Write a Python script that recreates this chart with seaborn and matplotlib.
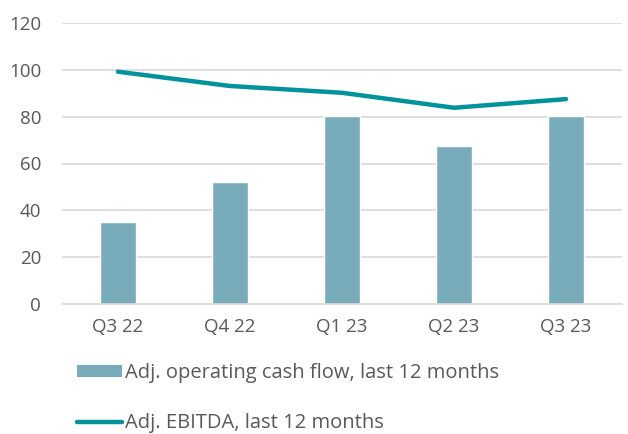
import numpy as np
import pandas as pd
import seaborn as sns
import matplotlib.pyplot as plt
from matplotlib.patches import Patch
from matplotlib.lines import Line2D

quarters = ["Q3 22", "Q4 22", "Q1 23", "Q2 23", "Q3 23"]
cash_flow = [35, 52, 80.4, 67.6, 80.1]
ebitda = [99.2, 93.1, 90.2, 83.8, 87.5]

bar_label = "Adj. operating cash flow, last 12 months"
line_label = "Adj. EBITDA, last 12 months"

bar_color = "#78ACBB"
line_color = "#00939B"
text_color = "#595959"
fs = 14.5

sns.set_style("white")
plt.rcParams["font.family"] = ["Open Sans", "DejaVu Sans"]

df = pd.DataFrame({"quarter": quarters, "cash_flow": cash_flow, "ebitda": ebitda})

fig = plt.figure(figsize=(6.28, 4.34), dpi=100)
ax = fig.add_axes([62 / 628, 1 - 304 / 434, 560 / 628, 281 / 434])

sns.barplot(data=df, x="quarter", y="cash_flow", color=bar_color, width=0.33,
            saturation=1, ax=ax, zorder=2)
sns.lineplot(x=np.arange(len(quarters)), y=df["ebitda"], color=line_color,
             linewidth=3.2, ax=ax, zorder=3, solid_capstyle="round")

ax.set_ylim(0, 120)
ax.set_yticks(range(0, 121, 20))
ax.set_xlim(-0.5, len(quarters) - 0.5)
ax.grid(axis="y", color="#D9D9D9", linewidth=1.2, zorder=0)
ax.set_axisbelow(True)
for s in ["top", "right", "left"]:
    ax.spines[s].set_visible(False)
ax.spines["bottom"].set_color("#D9D9D9")
ax.spines["bottom"].set_linewidth(1.2)
ax.tick_params(axis="both", length=0, labelsize=13.5, colors=text_color)
ax.tick_params(axis="y", pad=15)
ax.tick_params(axis="x", pad=10)
ax.set_xlabel("")
ax.set_ylabel("")

handles = [Patch(facecolor=bar_color, edgecolor="none"),
           Line2D([0], [0], color=line_color, linewidth=3.2, solid_capstyle="round")]
fig.legend(handles, [bar_label, line_label], loc="upper left",
           bbox_to_anchor=(77 / 628, 1 - 363 / 434), frameon=False,
           fontsize=fs, labelcolor=text_color, handlelength=2.25,
           handleheight=0.55, handletextpad=0.15, labelspacing=1.5,
           borderpad=0, borderaxespad=0)

fig.savefig("out.png", dpi=100)
